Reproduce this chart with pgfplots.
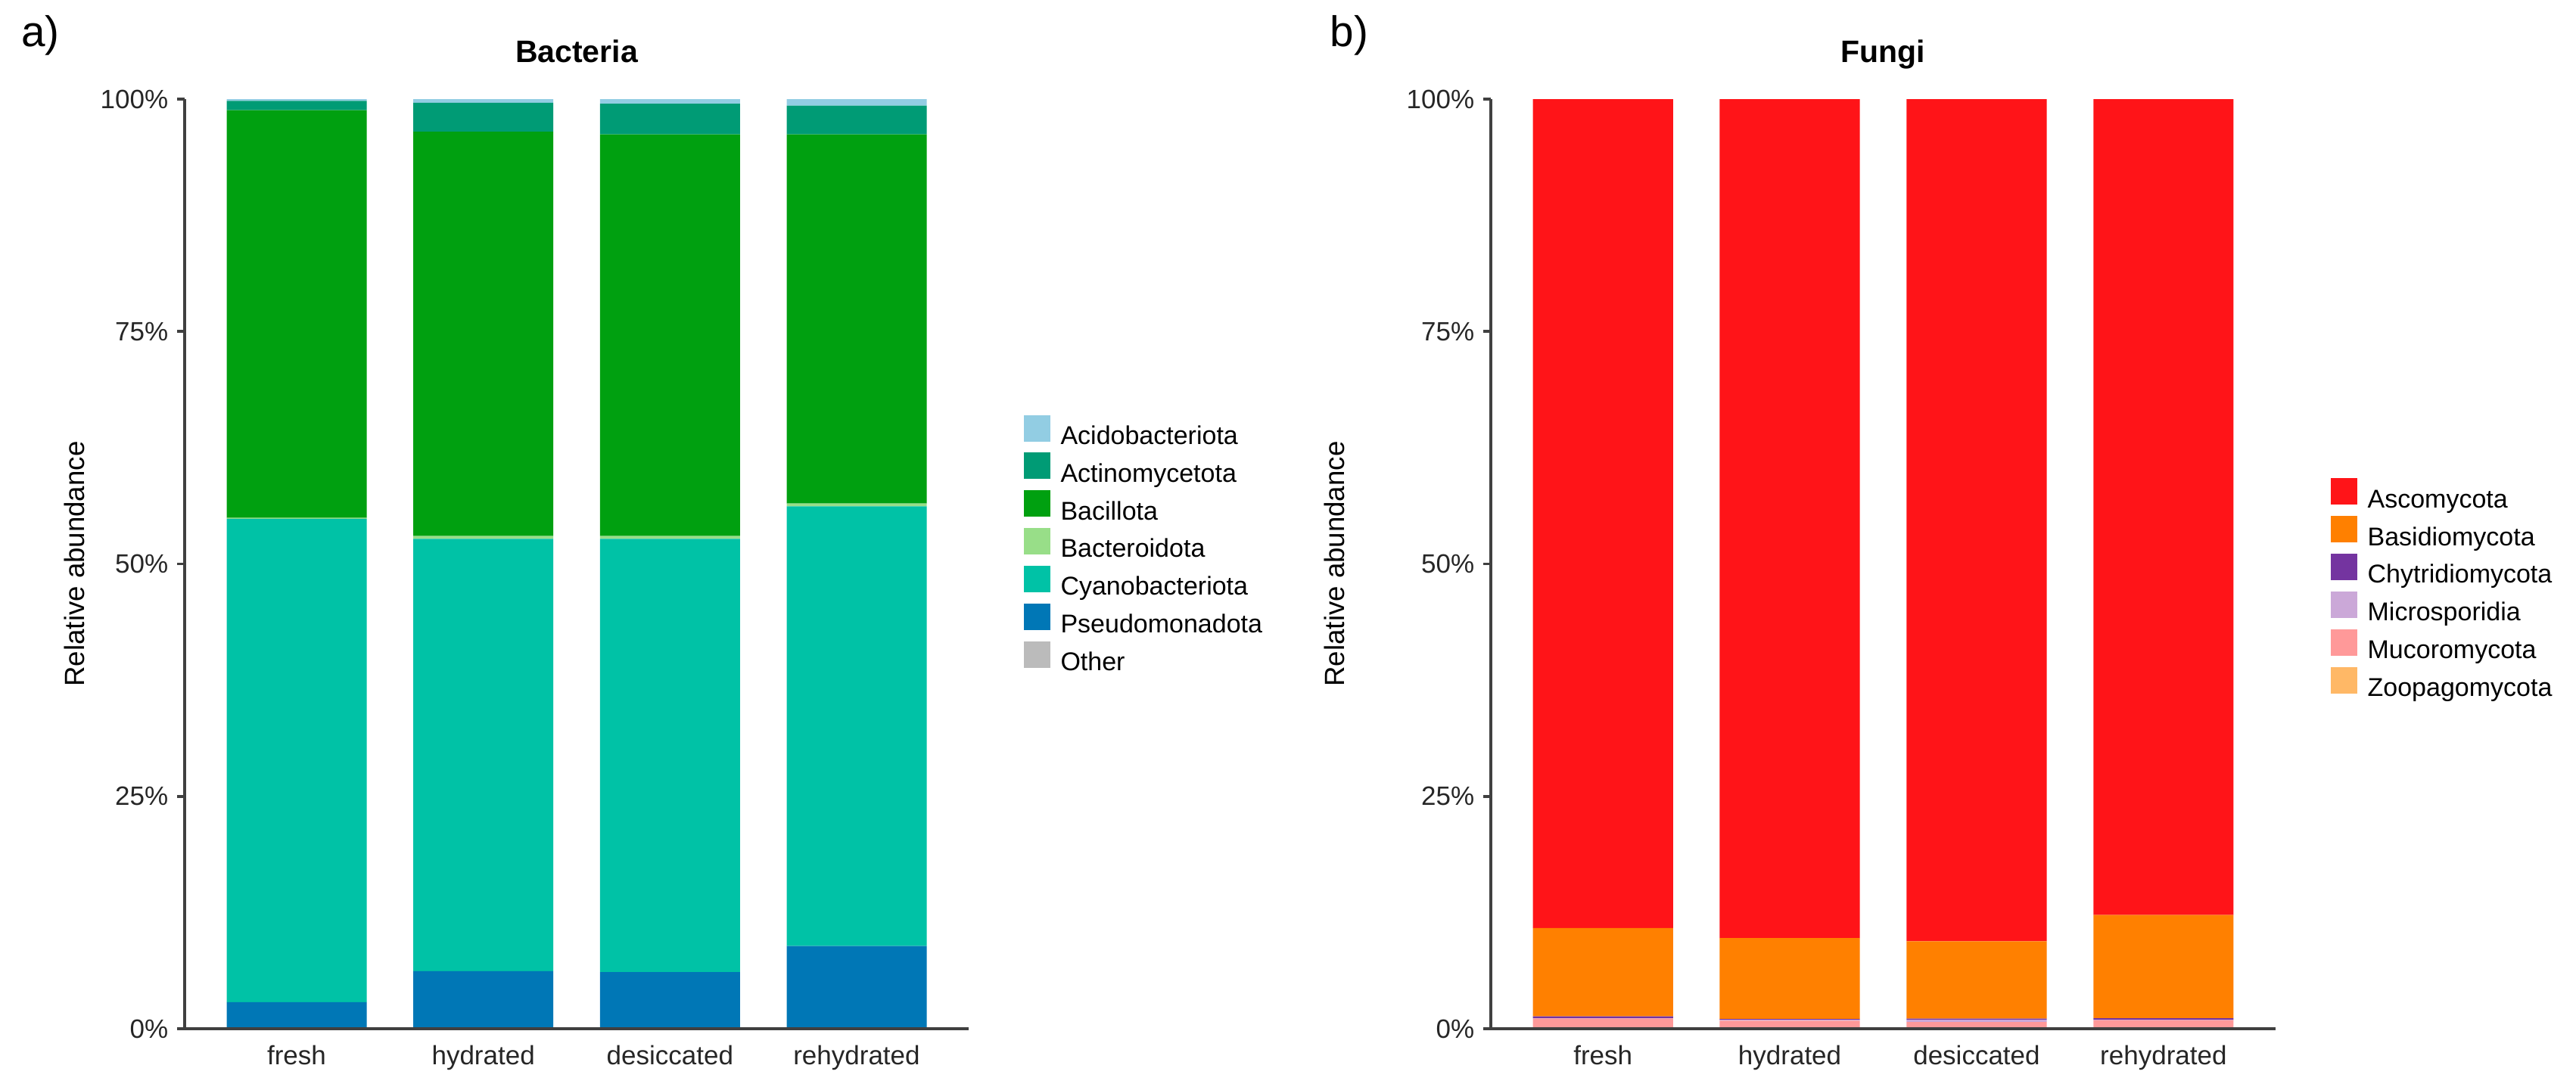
\documentclass[border=0pt]{standalone}
\usepackage{fontspec}
\setmainfont{Liberation Sans}
\usepackage{pgfplots}
\pgfplotsset{compat=1.18}
\usepackage{pgfplotstable}

\definecolor{cAcido}{HTML}{92CDE3}
\definecolor{cActino}{HTML}{009B75}
\definecolor{cBacillota}{HTML}{00A010}
\definecolor{cBacteroid}{HTML}{98DE88}
\definecolor{cCyano}{HTML}{00C2A6}
\definecolor{cPseudo}{HTML}{0077B6}
\definecolor{cOther}{HTML}{BBBBBB}
\definecolor{cAsco}{HTML}{FF1418}
\definecolor{cBasidio}{HTML}{FF8000}
\definecolor{cChytrid}{HTML}{7434A0}
\definecolor{cMicro}{HTML}{CBA8D8}
\definecolor{cMucor}{HTML}{FF9999}
\definecolor{cZoop}{HTML}{FFB866}

\pgfplotstableread{
x Other Pseudo Cyano Bacteroid Bacillota Actino Acido
0 0 2.85 52.0 0.1 43.85 1.0 0.2
1 0 6.2 46.5 0.3 43.5 3.1 0.4
2 0 6.1 46.6 0.3 43.2 3.3 0.5
3 0 8.9 47.3 0.3 39.7 3.1 0.7
}\bacteria

\pgfplotstableread{
x Zoop Mucor Micro Chytrid Basidio Asco
0 0.02 1.1 0.02 0.2 9.5 89.16
1 0.02 0.85 0.1 0.08 8.7 90.25
2 0.02 0.7 0.25 0.13 8.3 90.6
3 0.02 0.9 0.02 0.2 11.1 87.76
}\fungi

\pgfplotsset{
 panel/.style={
  scale only axis, width=310.8pt, height=368.7pt, anchor=south west,
  ybar stacked, bar width=0.75,
  xmin=-0.6, xmax=3.6, ymin=0, ymax=100,
  axis lines*=left, axis on top,
  axis line style={line width=1.1pt, black!75},
  xtick={0,1,2,3}, xticklabels={fresh,hydrated,desiccated,rehydrated},
  ytick={0,25,50,75,100}, yticklabels={0\%,25\%,50\%,75\%,100\%},
  xtick style={draw=none},
  ytick style={line width=1.1pt, black!75},
  tick align=outside, major tick length=3pt,
  tick label style={font=\fontsize{10.5}{12}\selectfont, text=black!85},
  ylabel={Relative abundance},
  every axis y label/.style={at={(axis description cs:-0.141,0.5)}, rotate=90, anchor=center, font=\fontsize{11}{13}\selectfont},
  title style={font=\bfseries\fontsize{12.3}{14}\selectfont, at={(axis description cs:0.5,1)}, anchor=base, yshift=8.7pt},
  every axis plot/.append style={draw=none},
  legend style={at={(axis description cs:1.07,0.52)}, anchor=west, draw=none, fill=none,
    font=\fontsize{10.2}{12}\selectfont, row sep=1.2pt, inner sep=0pt,
    nodes={inner xsep=4pt, inner ysep=0pt, text height=7.6pt, text depth=2.1pt}},
  legend cell align=left,
  reverse legend,
  legend image code/.code={\fill[##1] (0pt,-1.6pt) rectangle (10.5pt,8.9pt);},
 }
}

\begin{document}
\begin{tikzpicture}
\useasboundingbox (0,0) rectangle (1021.2pt,432pt);
\node[font=\fontsize{17}{17}\selectfont] at (16pt,417.9pt) {a)};
\node[font=\fontsize{17}{17}\selectfont] at (534.9pt,417.9pt) {b)};

\begin{axis}[panel, at={(73.2pt,24pt)}, title={Bacteria}]
\addplot[fill=cOther] table[x=x,y=Other] {\bacteria};
\addplot[fill=cPseudo] table[x=x,y=Pseudo] {\bacteria};
\addplot[fill=cCyano] table[x=x,y=Cyano] {\bacteria};
\addplot[fill=cBacteroid] table[x=x,y=Bacteroid] {\bacteria};
\addplot[fill=cBacillota] table[x=x,y=Bacillota] {\bacteria};
\addplot[fill=cActino] table[x=x,y=Actino] {\bacteria};
\addplot[fill=cAcido] table[x=x,y=Acido] {\bacteria};
\legend{Other,Pseudomonadota,Cyanobacteriota,Bacteroidota,Bacillota,Actinomycetota,Acidobacteriota}
\end{axis}

\begin{axis}[panel, at={(591pt,24pt)}, width=311.1pt, title={Fungi},
  every axis y label/.style={at={(axis description cs:-0.1996,0.5)}, rotate=90, anchor=center, font=\fontsize{11}{13}\selectfont},
  legend style={at={(axis description cs:1.07,0.472)}}]
\addplot[fill=cZoop] table[x=x,y=Zoop] {\fungi};
\addplot[fill=cMucor] table[x=x,y=Mucor] {\fungi};
\addplot[fill=cMicro] table[x=x,y=Micro] {\fungi};
\addplot[fill=cChytrid] table[x=x,y=Chytrid] {\fungi};
\addplot[fill=cBasidio] table[x=x,y=Basidio] {\fungi};
\addplot[fill=cAsco] table[x=x,y=Asco] {\fungi};
\legend{Zoopagomycota,Mucoromycota,Microsporidia,Chytridiomycota,Basidiomycota,Ascomycota}
\end{axis}
\end{tikzpicture}
\end{document}
